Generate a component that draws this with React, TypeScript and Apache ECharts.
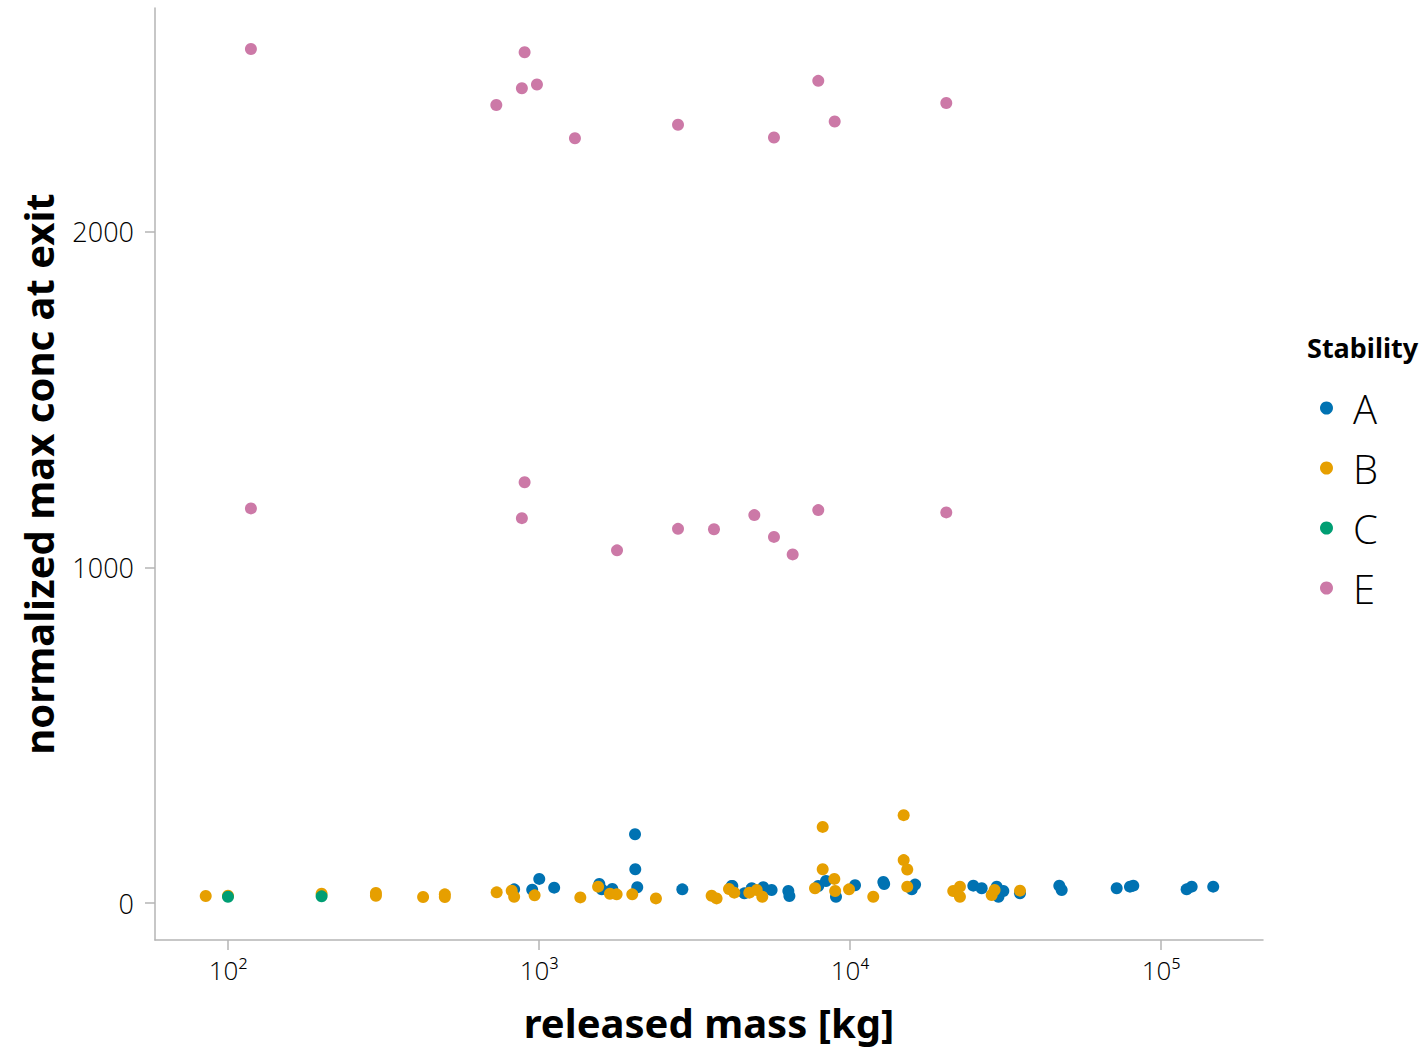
import React, { useEffect, useRef } from "react";
import * as echarts from "echarts";

// Released mass [kg] and normalized max concentration at exit, per stability class
const massA = [832, 1002, 951, 1119, 1563, 1591, 1721, 2036, 2040, 2070, 2890, 4184, 4165, 4575, 4831, 5262, 5597, 6335, 6385, 7907, 8371, 9016, 10380, 12800, 12880, 16190, 15800, 24920, 26510, 29630, 31120, 30020, 35210, 47100, 47940, 72030, 79480, 81460, 120900, 125500, 147200];
const concA = [41, 72, 40, 46, 57, 41, 42, 205, 101, 47, 41, 51, 51, 29, 44, 47, 39, 36, 21, 51, 66, 19, 53, 63, 57, 55, 41, 52, 44, 49, 36, 19, 29, 52, 39, 44, 49, 52, 41, 49, 49];

const massB = [84.8, 100, 200, 299, 299, 424, 498, 498, 731, 817, 832, 968, 1358, 1549, 1691, 1777, 1995, 2377, 3590, 3724, 4083, 4246, 4745, 5013, 5224, 7718, 8170, 8170, 8905, 8960, 9930, 11880, 14880, 14880, 15280, 15280, 21480, 22570, 22570, 28550, 29170, 35210];
const concB = [21, 22, 28, 22, 30, 18, 18, 26, 32, 37, 19, 23, 17, 49, 28, 26, 26, 14, 22, 14, 42, 31, 31, 39, 19, 44, 227, 101, 72, 36, 41, 19, 262, 128, 100, 49, 36, 49, 19, 24, 39, 37];

const massC = [100, 200];
const concC = [19, 20];

const massE = [118.5, 899, 881, 985, 729, 1305, 2799, 5696, 7907, 8929, 20400, 118.5, 899, 881, 1782, 2799, 3653, 4925, 5696, 6542, 7907, 20400];
const concE = [2545, 2535, 2428, 2439, 2378, 2279, 2319, 2281, 2450, 2329, 2384, 1176, 1254, 1147, 1051, 1115, 1114, 1156, 1091, 1039, 1171, 1164];

const stabilityClasses = ["A", "B", "C", "E"];
const classColors = ["#0072B2", "#E69F00", "#009E73", "#CC79A7"];

const xTickExponents = [2, 3, 4, 5];
const xTickLabels = ["10²", "10³", "10⁴", "10⁵"];
const yTicks = [0, 1000, 2000];

const LIGHT_FONT = "'Open Sans', 'Noto Sans', sans-serif";
const BOLD_FONT = "'Noto Sans', 'Open Sans', sans-serif";

function points(mass: number[], conc: number[]) {
  return mass.map((m, i) => [Math.log10(m), conc[i]]);
}

export default function App() {
  const ref = useRef<HTMLDivElement>(null);

  useEffect(() => {
    if (!ref.current) return;
    const chart = echarts.init(ref.current, undefined, { renderer: "svg" });
    const groups = [
      points(massA, concA),
      points(massB, concB),
      points(massC, concC),
      points(massE, concE),
    ];
    const axisGray = "#b5b5b5";

    chart.setOption({
      animation: false,
      backgroundColor: "#ffffff",
      title: {
        text: "Stability",
        left: 1307,
        top: 334,
        padding: 0,
        textStyle: { fontFamily: BOLD_FONT, fontWeight: "bold", fontSize: 27, color: "#000" },
      },
      legend: {
        orient: "vertical",
        left: 1320,
        top: 386,
        padding: 0,
        icon: "circle",
        itemWidth: 13,
        itemHeight: 13,
        itemGap: 16,
        data: stabilityClasses,
        textStyle: {
          fontFamily: LIGHT_FONT,
          fontWeight: 300,
          fontSize: 40,
          lineHeight: 44,
          color: "#000",
          padding: [0, 0, 0, 15],
        },
      },
      grid: { left: 155, right: 162, top: 8, bottom: 111, containLabel: false },
      xAxis: {
        type: "value",
        min: 1.7653,
        max: 5.328,
        name: "released mass [kg]",
        nameLocation: "middle",
        nameGap: 62,
        nameTextStyle: { fontFamily: BOLD_FONT, fontWeight: "bold", fontSize: 40, color: "#000" },
        axisLine: { show: true, onZero: false, lineStyle: { color: axisGray, width: 1.5 } },
        axisTick: { show: true, length: 10, inside: false, customValues: xTickExponents, lineStyle: { color: axisGray, width: 1.5 } },
        axisLabel: {
          customValues: xTickExponents,
          fontFamily: LIGHT_FONT,
          fontWeight: 300,
          fontSize: 26,
          color: "#000",
          margin: 17,
          formatter: (v: number) => xTickLabels[xTickExponents.indexOf(Math.round(v))] ?? "",
        },
        splitLine: { show: false },
      },
      yAxis: {
        type: "value",
        min: -110,
        max: 2667,
        name: "normalized max conc at exit",
        nameLocation: "middle",
        nameGap: 97,
        nameTextStyle: { fontFamily: BOLD_FONT, fontWeight: "bold", fontSize: 40, color: "#000" },
        axisLine: { show: true, onZero: false, lineStyle: { color: axisGray, width: 1.5 } },
        axisTick: { show: true, length: 10, inside: false, customValues: yTicks, lineStyle: { color: axisGray, width: 1.5 } },
        axisLabel: {
          customValues: yTicks,
          fontFamily: LIGHT_FONT,
          fontWeight: 300,
          fontSize: 27,
          color: "#000",
          margin: 21,
          formatter: (v: number) => String(v),
        },
        splitLine: { show: false },
      },
      series: stabilityClasses.map((name, i) => ({
        name,
        type: "scatter",
        symbol: "circle",
        symbolSize: 12,
        data: groups[i],
        itemStyle: { color: classColors[i], opacity: 1 },
        emphasis: { disabled: true },
      })),
    });

    return () => chart.dispose();
  }, []);

  return <div ref={ref} style={{ width: 1425, height: 1051, position: "absolute", left: 0, top: 0 }} />;
}
